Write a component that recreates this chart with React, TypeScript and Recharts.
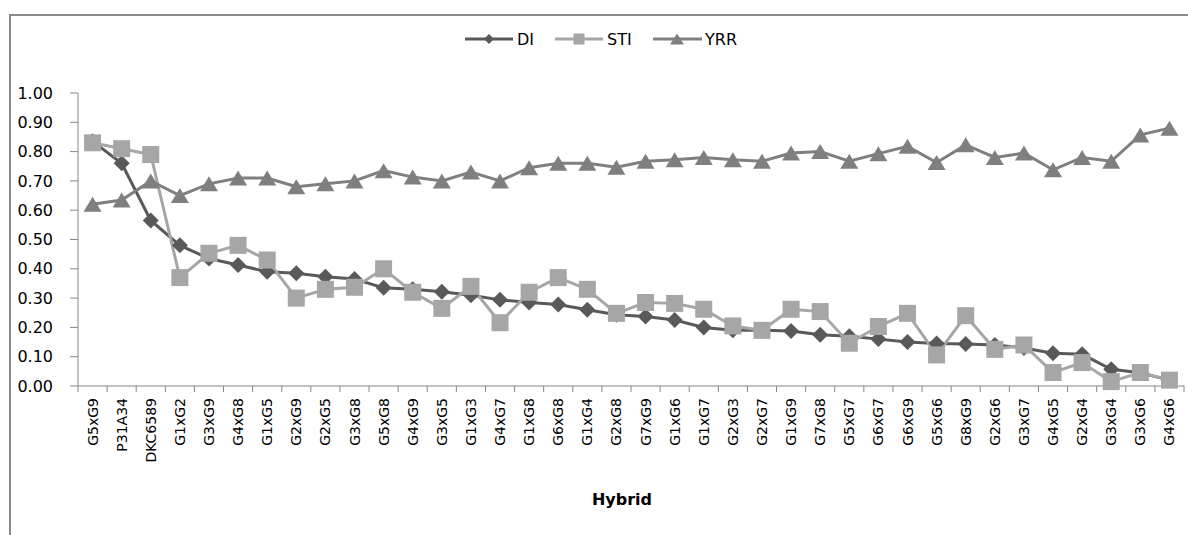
import React from "react";
import { LineChart, Line, XAxis, YAxis } from "recharts";

const hybrids = [
  "G5xG9", "P31A34", "DKC6589", "G1xG2", "G3xG9", "G4xG8", "G1xG5", "G2xG9", "G2xG5", "G3xG8",
  "G5xG8", "G4xG9", "G3xG5", "G1xG3", "G4xG7", "G1xG8", "G6xG8", "G1xG4", "G2xG8", "G7xG9",
  "G1xG6", "G1xG7", "G2xG3", "G2xG7", "G1xG9", "G7xG8", "G5xG7", "G6xG7", "G6xG9", "G5xG6",
  "G8xG9", "G2xG6", "G3xG7", "G4xG5", "G2xG4", "G3xG4", "G3xG6", "G4xG6",
];

const diValues = [
  0.835, 0.76, 0.565, 0.48, 0.435, 0.413, 0.39, 0.385, 0.373, 0.365,
  0.335, 0.33, 0.322, 0.31, 0.294, 0.285, 0.278, 0.26, 0.243, 0.237,
  0.225, 0.2, 0.19, 0.19, 0.188, 0.175, 0.17, 0.16, 0.15, 0.145,
  0.143, 0.14, 0.13, 0.112, 0.108, 0.057, 0.045, 0.02,
];

const stiValues = [
  0.83, 0.81, 0.79, 0.37, 0.453, 0.48, 0.43, 0.3, 0.33, 0.337,
  0.4, 0.32, 0.265, 0.34, 0.216, 0.32, 0.37, 0.33, 0.248, 0.285,
  0.282, 0.262, 0.205, 0.19, 0.262, 0.254, 0.146, 0.203, 0.248, 0.106,
  0.24, 0.125, 0.14, 0.046, 0.08, 0.015, 0.046, 0.02,
];

const yrrValues = [
  0.62, 0.635, 0.7, 0.65, 0.69, 0.71, 0.71, 0.68, 0.69, 0.7,
  0.735, 0.713, 0.7, 0.73, 0.7, 0.745, 0.76, 0.76, 0.747, 0.767,
  0.772, 0.78, 0.772, 0.767, 0.795, 0.8, 0.767, 0.793, 0.818, 0.763,
  0.823, 0.78, 0.795, 0.738, 0.78, 0.767, 0.857, 0.88,
];

const yTicks = [0, 0.1, 0.2, 0.3, 0.4, 0.5, 0.6, 0.7, 0.8, 0.9, 1.0];

const seriesNames = ["DI", "STI", "YRR"];

const data = hybrids.map((h, i) => ({
  hybrid: h,
  di: diValues[i],
  sti: stiValues[i],
  yrr: yrrValues[i],
}));

const C_DI = "#595959";
const C_STI = "#a6a6a6";
const C_YRR = "#7f7f7f";
const AXIS = "#868686";
const FONT = "'DejaVu Sans', Verdana, sans-serif";

const W = 1188;
const H = 535;
const PLOT_LEFT = 78;
const PLOT_RIGHT = 1184;
const PLOT_TOP = 93;
const PLOT_BOTTOM = 386;
const X_AXIS_H = 100;
const BAND = (PLOT_RIGHT - PLOT_LEFT) / hybrids.length;

const Diamond = (props: any) => {
  const { cx, cy, half = 8 } = props;
  if (cx == null || cy == null) return null;
  const r = half;
  return (
    <polygon
      points={`${cx},${cy - r} ${cx + r},${cy} ${cx},${cy + r} ${cx - r},${cy}`}
      fill={C_DI}
    />
  );
};

const Square = (props: any) => {
  const { cx, cy, side = 17 } = props;
  if (cx == null || cy == null) return null;
  return <rect x={cx - side / 2} y={cy - side / 2} width={side} height={side} fill={C_STI} />;
};

const Triangle = (props: any) => {
  const { cx, cy, tw = 18, th = 15 } = props;
  if (cx == null || cy == null) return null;
  return (
    <polygon
      points={`${cx},${cy - th / 2} ${cx + tw / 2},${cy + th / 2} ${cx - tw / 2},${cy + th / 2}`}
      fill={C_YRR}
    />
  );
};

const XTick = (props: any) => {
  const { x, y, payload, index } = props;
  const last = index === hybrids.length - 1;
  return (
    <g>
      <line x1={x - BAND / 2} x2={x - BAND / 2} y1={y - 6} y2={y} stroke={AXIS} strokeWidth={1} />
      {last && (
        <line x1={x + BAND / 2} x2={x + BAND / 2} y1={y - 6} y2={y} stroke={AXIS} strokeWidth={1} />
      )}
      <text
        x={0}
        y={0}
        transform={`translate(${x},${y + 6}) rotate(-90)`}
        textAnchor="end"
        dy="0.36em"
        fontSize={14}
        fontFamily={FONT}
        fill="#000"
      >
        {payload.value}
      </text>
    </g>
  );
};

const LegendOverlay = () => {
  const ly = 39;
  return (
    <svg
      width={W}
      height={H}
      style={{ position: "absolute", left: 0, top: 0, pointerEvents: "none" }}
    >
      <line x1={465} x2={513} y1={ly} y2={ly} stroke={C_DI} strokeWidth={3} />
      <Diamond cx={489} cy={ly} half={5} />
      <text x={517} y={ly} dy="0.36em" fontSize={16} fontFamily={FONT} fill="#000">
        {seriesNames[0]}
      </text>
      <line x1={555} x2={603} y1={ly} y2={ly} stroke={C_STI} strokeWidth={3} />
      <Square cx={579} cy={ly} side={11} />
      <text x={607} y={ly} dy="0.36em" fontSize={16} fontFamily={FONT} fill="#000">
        {seriesNames[1]}
      </text>
      <line x1={653} x2={702} y1={ly} y2={ly} stroke={C_YRR} strokeWidth={3} />
      <Triangle cx={677} cy={ly} tw={14} th={11} />
      <text x={705} y={ly} dy="0.36em" fontSize={16} fontFamily={FONT} fill="#000">
        {seriesNames[2]}
      </text>
      <text
        x={622}
        y={505}
        textAnchor="middle"
        fontSize={16}
        fontWeight="bold"
        fontFamily={FONT}
        fill="#000"
      >
        Hybrid
      </text>
    </svg>
  );
};

export default function App() {
  return (
    <div
      style={{
        position: "absolute",
        left: 0,
        top: 0,
        width: W,
        height: H,
        background: "#fff",
        overflow: "hidden",
        fontFamily: FONT,
      }}
    >
      <div
        style={{
          position: "absolute",
          left: 9,
          top: 14,
          width: W,
          height: H,
          borderLeft: "2px solid #8a8a8a",
          borderTop: "2px solid #8a8a8a",
        }}
      />
      <div style={{ position: "absolute", left: 0, top: 0 }}>
        <LineChart
          width={W}
          height={H}
          data={data}
          margin={{
            top: PLOT_TOP,
            right: W - PLOT_RIGHT,
            left: 0,
            bottom: H - PLOT_BOTTOM - X_AXIS_H,
          }}
        >
          <XAxis
            dataKey="hybrid"
            scale="band"
            interval={0}
            height={X_AXIS_H}
            tickLine={false}
            tickSize={6}
            tickMargin={0}
            axisLine={{ stroke: AXIS, strokeWidth: 1 }}
            tick={<XTick />}
          />
          <YAxis
            width={PLOT_LEFT}
            domain={[0, 1]}
            ticks={yTicks}
            interval={0}
            tickFormatter={(v: number) => v.toFixed(2)}
            tickSize={8}
            tickMargin={17}
            axisLine={{ stroke: AXIS, strokeWidth: 1 }}
            tickLine={{ stroke: AXIS, strokeWidth: 1 }}
            tick={{ fill: "#000", fontSize: 16, fontFamily: FONT }}
          />
          <Line
            type="linear"
            dataKey="di"
            stroke={C_DI}
            strokeWidth={3}
            dot={<Diamond />}
            activeDot={false}
            isAnimationActive={false}
          />
          <Line
            type="linear"
            dataKey="sti"
            stroke={C_STI}
            strokeWidth={3}
            dot={<Square />}
            activeDot={false}
            isAnimationActive={false}
          />
          <Line
            type="linear"
            dataKey="yrr"
            stroke={C_YRR}
            strokeWidth={3}
            dot={<Triangle />}
            activeDot={false}
            isAnimationActive={false}
          />
        </LineChart>
      </div>
      <LegendOverlay />
    </div>
  );
}
